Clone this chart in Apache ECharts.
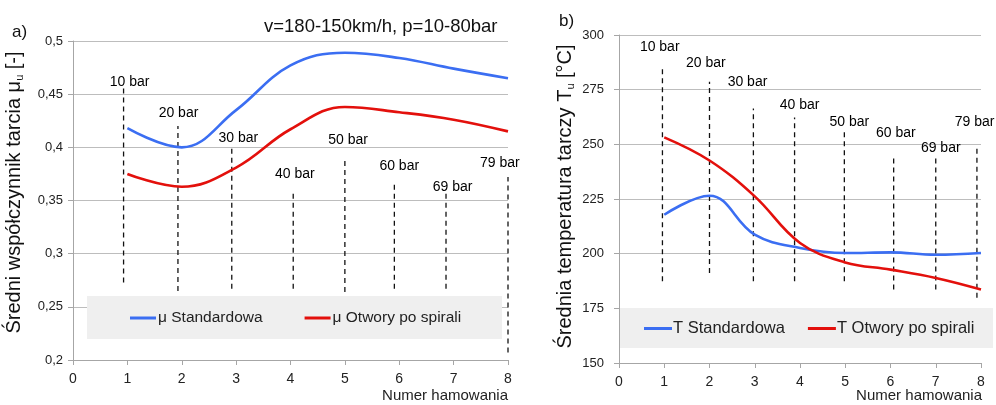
<!DOCTYPE html>
<html><head><meta charset="utf-8">
<script src="https://cdn.jsdelivr.net/npm/echarts@6/dist/echarts.min.js"></script>
<style>html,body{margin:0;padding:0;background:#fff}#c{width:996px;height:405px}</style>
</head><body><div id="c"></div>
<script>
// Numer hamowania
const brakeNo = [1, 2, 3, 4, 5, 6, 7, 8];
// a) Średni współczynnik tarcia
const muStd  = [0.418, 0.400, 0.435, 0.477, 0.489, 0.484, 0.474, 0.465];
const muSpir = [0.375, 0.363, 0.381, 0.417, 0.438, 0.433, 0.426, 0.415];
// b) Średnia temperatura tarczy
const tStd  = [217.8, 226.5, 208.7, 202.6, 200.3, 200.6, 199.5, 200.3];
const tSpir = [253.2, 242.6, 226.2, 204.9, 196.0, 192.7, 188.9, 183.6];
// pressure markers
const pressLabels = ['10 bar','20 bar','30 bar','40 bar','50 bar','60 bar','69 bar','79 bar'];
const muMarkX      = [0.93, 1.93, 2.92, 4.05, 5.0, 5.91, 6.86, 8.0];
const muMarkTop    = [0.456, 0.420, 0.400, 0.359, 0.390, 0.367, 0.358, 0.372];
const muMarkBottom = [0.273, 0.265, 0.267, 0.267, 0.264, 0.267, 0.267, 0.207];
const muLabelX     = [1.04, 1.94, 3.04, 4.08, 5.06, 6.0, 6.98, 7.85];
const muLabelY     = [0.461, 0.432, 0.409, 0.375, 0.407, 0.382, 0.363, 0.385];
const tMarkX      = [0.96, 2.0, 2.97, 3.88, 4.98, 6.07, 7.0, 7.91];
const tMarkTop    = [286.2, 278.6, 266.4, 262.3, 255.5, 245.2, 244.7, 248.3];
const tMarkBottom = [187.4, 191.2, 187.4, 187.4, 187.4, 183.6, 183.6, 179.8];
const tLabelX     = [0.90, 1.92, 2.84, 3.99, 5.09, 6.12, 7.11, 7.86];
const tLabelY     = [294.6, 287.0, 278.6, 268.0, 260.3, 255.0, 248.2, 260.3];

const FONT = 'Liberation Sans, Arial, sans-serif';
const BLUE = '#3b6ef2', RED = '#e3100c';
const chart = echarts.init(document.getElementById('c'), null, {renderer: 'canvas'});

function pairs(ys) { return brakeNo.map((x, i) => [x, ys[i]]); }
function markerSeries(idx, xs, tops, bottoms) {
  return xs.map((x, i) => ({
    type: 'line', xAxisIndex: idx, yAxisIndex: idx, silent: true, symbol: 'none', z: 1,
    data: [[x, bottoms[i]], [x, tops[i]]],
    lineStyle: {color: '#111', width: 1.3, type: [5, 4]}
  }));
}
function labelSeries(idx, xs, ys) {
  return {
    type: 'scatter', xAxisIndex: idx, yAxisIndex: idx, silent: true, symbolSize: 0, z: 3,
    itemStyle: {opacity: 1},
    data: xs.map((x, i) => ({value: [x, ys[i]], name: pressLabels[i]})),
    label: {show: true, position: 'inside', formatter: p => p.name, color: '#000', fontSize: 14, fontFamily: FONT}
  };
}
const axisBase = {
  axisLine: {show: true, lineStyle: {color: '#a6a6a6'}},
  axisTick: {show: true, length: 5, lineStyle: {color: '#a6a6a6'}},
  splitLine: {show: false},
  axisLabel: {color: '#222', fontSize: 13, fontFamily: FONT}
};
const comma = v => String(+v.toFixed(2)).replace('.', ',');

const option = {
  animation: false,
  backgroundColor: '#fff',
  title: [
    {text: 'v=180-150km/h, p=10-80bar', left: 264, top: 17, padding: 0, textStyle: {fontSize: 18.5, fontWeight: 'normal', color: '#111', fontFamily: FONT}},
    {text: 'a)', left: 12, top: 24, padding: 0, textStyle: {fontSize: 17, fontWeight: 'normal', color: '#111', fontFamily: FONT}},
    {text: 'b)', left: 559, top: 13, padding: 0, textStyle: {fontSize: 17, fontWeight: 'normal', color: '#111', fontFamily: FONT}},
    {text: 'Numer hamowania', right: 488, top: 388, padding: 0, textStyle: {fontSize: 15, fontWeight: 'normal', color: '#222', fontFamily: FONT}},
    {text: 'Numer hamowania', right: 14, top: 388, padding: 0, textStyle: {fontSize: 15, fontWeight: 'normal', color: '#222', fontFamily: FONT}}
  ],
  graphic: [
    {type: 'rect', z: 1, shape: {x: 87, y: 296, width: 415, height: 43}, style: {fill: '#efefef'}},
    {type: 'rect', z: 1, shape: {x: 620, y: 308, width: 373, height: 40}, style: {fill: '#efefef'}}
  ],
  legend: [
    {data: ['μ Standardowa', 'μ Otwory po spirali'], left: 130, top: 310, padding: 0, itemWidth: 26, itemHeight: 3, itemGap: 42, icon: 'rect',
     textStyle: {fontSize: 15.5, color: '#222', fontFamily: FONT, padding: [0, 0, 0, -3]}},
    {data: ['T Standardowa', 'T Otwory po spirali'], left: 644, top: 320, padding: 0, itemWidth: 28, itemHeight: 3, itemGap: 23, icon: 'rect',
     textStyle: {fontSize: 16.5, color: '#222', fontFamily: FONT, padding: [0, 0, 0, -4]}}
  ],
  grid: [
    {left: 73, right: 488, top: 41, bottom: 45},
    {left: 619, right: 15, top: 35, bottom: 42}
  ],
  xAxis: [
    Object.assign({}, axisBase, {type: 'value', gridIndex: 0, min: 0, max: 8, interval: 1, axisLabel: Object.assign({}, axisBase.axisLabel, {margin: 12, fontSize: 14})}),
    Object.assign({}, axisBase, {type: 'value', gridIndex: 1, min: 0, max: 8, interval: 1, axisLabel: Object.assign({}, axisBase.axisLabel, {margin: 12, fontSize: 14})})
  ],
  yAxis: [
    Object.assign({}, axisBase, {type: 'value', gridIndex: 0, min: 0.2, max: 0.5, interval: 0.05,
      splitLine: {show: true, lineStyle: {color: '#bdbdbd'}},
      axisLabel: Object.assign({}, axisBase.axisLabel, {margin: 10, formatter: comma}),
      name: 'Średni współczynnik tarcia μ{sub|u} [-]', nameLocation: 'middle', nameGap: 48,
      nameTextStyle: {fontSize: 20, color: '#111', fontFamily: FONT, padding: [0, 0, 0, 16],
        rich: {sub: {fontSize: 11, fontFamily: FONT, color: '#111', padding: [11, 0, 0, 0]}}}}),
    Object.assign({}, axisBase, {type: 'value', gridIndex: 1, min: 150, max: 300, interval: 25,
      splitLine: {show: true, lineStyle: {color: '#bdbdbd'}},
      axisLabel: Object.assign({}, axisBase.axisLabel, {margin: 15}),
      name: 'Średnia temperatura tarczy T{sub|u} [°C]', nameLocation: 'middle', nameGap: 43,
      nameTextStyle: {fontSize: 20, color: '#111', fontFamily: FONT, padding: [0, 0, 0, 5],
        rich: {sub: {fontSize: 11, fontFamily: FONT, color: '#111', padding: [11, 0, 0, 0]}}}})
  ],
  series: [
    ...markerSeries(0, muMarkX, muMarkTop, muMarkBottom),
    ...markerSeries(1, tMarkX, tMarkTop, tMarkBottom),
    labelSeries(0, muLabelX, muLabelY),
    labelSeries(1, tLabelX, tLabelY),
    {name: 'μ Standardowa', type: 'line', xAxisIndex: 0, yAxisIndex: 0, smooth: 0.4, symbol: 'none', z: 4, data: pairs(muStd), lineStyle: {color: BLUE, width: 2.6}, itemStyle: {color: BLUE}},
    {name: 'μ Otwory po spirali', type: 'line', xAxisIndex: 0, yAxisIndex: 0, smooth: 0.4, symbol: 'none', z: 4, data: pairs(muSpir), lineStyle: {color: RED, width: 2.6}, itemStyle: {color: RED}},
    {name: 'T Standardowa', type: 'line', xAxisIndex: 1, yAxisIndex: 1, smooth: 0.4, symbol: 'none', z: 4, data: pairs(tStd), lineStyle: {color: BLUE, width: 2.6}, itemStyle: {color: BLUE}},
    {name: 'T Otwory po spirali', type: 'line', xAxisIndex: 1, yAxisIndex: 1, smooth: 0.4, symbol: 'none', z: 4, data: pairs(tSpir), lineStyle: {color: RED, width: 2.6}, itemStyle: {color: RED}}
  ]
};
chart.setOption(option);
</script></body></html>
